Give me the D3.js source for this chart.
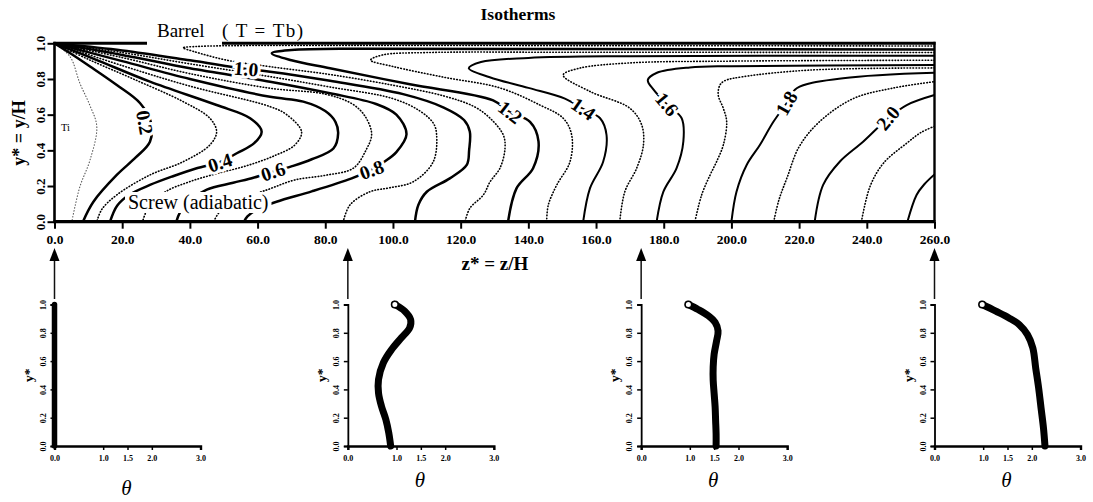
<!DOCTYPE html>
<html>
<head>
<meta charset="utf-8">
<script src="https://cdn.jsdelivr.net/npm/d3@7"></script>
<style>
  body { margin: 0; background: #fff; }
  svg { display: block; }
  text { font-family: "Liberation Serif", "DejaVu Serif", serif; fill: #000; }
</style>
</head>
<body>
<svg id="chart" width="1093" height="502"></svg>
<script>
// ---------- isotherm data: each line is a list of [z*, y*] points ----------
const iso01 = [[0,1],[4.6,0.925],[7.5,0.776],[10.5,0.65],[12.5,0.533],[10.5,0.346],[7.5,0.196],[5.1,0]];
const iso02 = [[0,1],[5,0.94],[10.5,0.87],[18.4,0.766],[25.3,0.664],[28.5,0.556],[28.2,0.448],[24,0.36],[18.4,0.262],[11.5,0.112],[8.4,0]];
const iso03 = [[0,1],[10,0.91],[23.3,0.8],[38,0.673],[45.9,0.58],[47.9,0.504],[45.9,0.43],[38,0.336],[28.2,0.262],[18.4,0.15],[14,0.07],[12.5,0]];
const iso04 = [[0,1],[12,0.91],[28.2,0.785],[47.9,0.654],[57.8,0.58],[61.2,0.505],[59,0.44],[54,0.385],[49,0.335],[42,0.3],[35,0.255],[28.2,0.206],[22,0.15],[18.5,0.09],[16.4,0]];
const iso05 = [[0,1],[20,0.875],[40,0.76],[63.7,0.645],[68.6,0.6],[73,0.504],[71,0.43],[65,0.37],[57,0.315],[48,0.27],[40,0.225],[33,0.17],[28,0.09],[26,0]];
const iso06 = [[0,1],[20,0.9],[40,0.8],[63.7,0.7],[73.5,0.673],[80,0.62],[83,0.56],[83.8,0.495],[82.4,0.41],[76,0.35],[70,0.31],[64.6,0.28],[59,0.248],[52.8,0.218],[45,0.18],[40,0.12],[37,0.05],[36,0]];
const iso07 = [[0,1],[20,0.92],[40,0.83],[63.7,0.748],[80,0.715],[88,0.66],[91.8,0.59],[93.7,0.49],[92,0.4],[88.3,0.3],[80,0.26],[71,0.234],[63,0.18],[54,0.12],[49,0.06],[47,0]];
const iso08 = [[0,1],[20,0.935],[40,0.86],[63.7,0.785],[81.4,0.72],[95,0.66],[101,0.6],[104,0.49],[101,0.39],[97,0.33],[93.7,0.29],[87.8,0.243],[76,0.17],[65.6,0.112],[60,0.07],[57,0.03],[56,0]];
const iso09 = [[0,1],[20,0.948],[40,0.885],[63.7,0.813],[81.4,0.755],[100,0.69],[108,0.62],[112,0.55],[112.9,0.486],[111.9,0.336],[106,0.224],[99,0.19],[93.2,0.168],[87.3,0.094],[85.3,0]];
const iso10 = [[0,1],[20,0.96],[40,0.905],[56.6,0.856],[63.7,0.841],[81.4,0.79],[103,0.715],[115,0.64],[121,0.57],[122.7,0.505],[122.5,0.4],[121.8,0.318],[116.8,0.243],[110,0.168],[107.5,0.094],[106.5,0]];
const iso11 = [[260,0.985],[150,0.987],[80,0.988],[50,0.986],[42,0.982],[38,0.975],[41,0.955],[51,0.905],[63.7,0.869],[81.4,0.825],[100,0.765],[115,0.705],[124,0.645],[128.7,0.58],[132.6,0.486],[133.1,0.41],[131.6,0.3],[128.7,0.224],[126.7,0.15],[122.7,0.075],[121.3,0]];
const iso12 = [[260,0.965],[150,0.968],[90,0.97],[70,0.962],[64.2,0.944],[70,0.905],[81.4,0.86],[105,0.77],[129.6,0.68],[134.6,0.613],[140.5,0.56],[143,0.45],[141.4,0.3],[136.5,0.187],[134,0]];
const iso13 = [[260,0.948],[150,0.95],[110,0.948],[97,0.935],[93.4,0.906],[100,0.87],[115,0.81],[131.6,0.75],[143.4,0.654],[150.3,0.58],[152.8,0.486],[152.3,0.336],[148.4,0.206],[145.9,0.094],[145.4,0]];
const iso14 = [[260,0.93],[170,0.928],[140,0.918],[126,0.895],[122.4,0.86],[128.6,0.81],[140,0.75],[150.8,0.69],[156.2,0.632],[161.2,0.58],[163.1,0.486],[162.1,0.336],[158.2,0.187],[156.2,0]];
const iso15 = [[260,0.905],[200,0.9],[170,0.89],[155,0.86],[150.3,0.822],[158.2,0.73],[170,0.636],[173.5,0.542],[174,0.43],[172,0.3],[168.5,0.168],[167,0]];
const iso16 = [[260,0.878],[200,0.872],[187.7,0.865],[178,0.835],[175.3,0.794],[177,0.74],[180.9,0.658],[185.3,0.58],[185.8,0.45],[183.8,0.3],[179.9,0.168],[177.9,0]];
const iso17 = [[260,0.862],[223.2,0.85],[203.5,0.813],[198,0.79],[196.6,0.766],[196.1,0.71],[197.6,0.636],[198.6,0.56],[197.6,0.43],[195.6,0.336],[193.7,0.262],[191.2,0.15],[189.2,0]];
const iso18 = [[200,0],[201.5,0.168],[204.5,0.318],[208.4,0.43],[212.4,0.56],[216.3,0.664],[219.3,0.748],[233,0.804],[260,0.835]];
const iso19 = [[212.5,0],[214,0.12],[216.5,0.25],[220,0.42],[226,0.56],[236,0.69],[248,0.75],[260,0.785]];
const iso20 = [[224.6,0],[227.1,0.206],[232,0.336],[238.9,0.448],[246.3,0.58],[251.8,0.654],[260,0.71]];
const iso21 = [[238.4,0],[241,0.2],[245,0.33],[251.8,0.44],[256,0.5],[260,0.535]];
const iso22 = [[252,0],[254.7,0.15],[257,0.21],[260,0.265]];

const isoLevels = [0.1,0.2,0.3,0.4,0.5,0.6,0.7,0.8,0.9,1.0,1.1,1.2,1.3,1.4,1.5,1.6,1.7,1.8,1.9,2.0,2.1,2.2];
const isoLines  = [iso01,iso02,iso03,iso04,iso05,iso06,iso07,iso08,iso09,iso10,iso11,iso12,iso13,iso14,iso15,iso16,iso17,iso18,iso19,iso20,iso21,iso22];

// contour labels: text and the [z*, y*] point they sit on
const labelText = ["0.2","0.4","0.6","0.8","1.0","1.2","1.4","1.6","1.8","2.0"];
const labelZ    = [26.6, 48.9, 64.6, 93.7, 56.6, 134.6, 156.2, 180.9, 216.3, 246.3];
const labelY    = [0.556,0.33, 0.28, 0.29, 0.856,0.613, 0.632, 0.658, 0.664, 0.58];

// axis ticks
const zTicks  = [0,20,40,60,80,100,120,140,160,180,200,220,240,260];
const yTicks  = [0,0.2,0.4,0.6,0.8,1.0];
const thTicks = [0,1,1.5,2,3];
const thTickLabels = ["0.0","1.0","1.5","2.0","3.0"];

// temperature profiles theta(y*) at four axial stations
const sliceZ = [0, 86.67, 173.33, 260];
const profY  = [1.0,0.953,0.894,0.835,0.765,0.682,0.588,0.47,0.376,0.282,0.188,0.094,0];
const prof1Y = [1.0,0.8,0.6,0.4,0.2,0];
const prof1T = [0,0,0,0,0,0];
const prof2T = [0.966,1.17,1.29,1.27,1.10,0.90,0.73,0.63,0.63,0.69,0.78,0.84,0.88];
const prof3Y = [1.0,0.965,0.92,0.873,0.814,0.743,0.65,0.56,0.465,0.37,0.276,0.18,0.087,0];
const prof3T = [0.97,1.17,1.38,1.52,1.58,1.55,1.50,1.48,1.48,1.50,1.52,1.53,1.54,1.54];
const prof4Y = [1.0,0.953,0.905,0.858,0.787,0.693,0.55,0.409,0.267,0.125,0];
const prof4T = [0.98,1.26,1.53,1.74,1.91,2.02,2.08,2.14,2.19,2.24,2.27];

const profiles = [
  d3.zip(prof1T, prof1Y),
  d3.zip(prof2T, profY),
  d3.zip(prof3T, prof3Y),
  d3.zip(prof4T, prof4Y)
];

// ---------- layout ----------
const svg = d3.select("#chart");
const P = { left: 54.5, right: 934.5, top: 43.3, bottom: 221.7 };
const x = d3.scaleLinear().domain([0, 260]).range([P.left, P.right]);
const y = d3.scaleLinear().domain([0, 1]).range([P.bottom, P.top]);

svg.append("defs").append("clipPath").attr("id", "plotClip")
  .append("rect").attr("x", P.left).attr("y", P.top)
  .attr("width", P.right - P.left).attr("height", P.bottom - P.top);

// title
svg.append("text").attr("x", 518).attr("y", 20).attr("text-anchor", "middle")
  .attr("font-size", 17.5).attr("font-weight", "bold").text("Isotherms");

// isotherm lines
const isoLine = d3.line().x(d => x(d[0])).y(d => y(d[1]))
  .curve(d3.curveCatmullRom.alpha(0.5));

const gIso = svg.append("g").attr("clip-path", "url(#plotClip)");
isoLines.forEach((pts, i) => {
  const lev = isoLevels[i];
  const solid = Math.round(lev * 10) % 2 === 0;
  const p = gIso.append("path").attr("d", isoLine(pts)).attr("fill", "none");
  if (solid) {
    p.attr("stroke", "#000").attr("stroke-width", lev <= 1.2 ? 2.5 : 2.0);
  } else {
    p.attr("stroke", lev < 0.15 ? "#555" : "#000")
     .attr("stroke-width", lev < 0.15 ? 1.1 : 1.6)
     .attr("stroke-dasharray", "0.6,2.4")
     .attr("stroke-linecap", "round");
  }
});

// contour labels with a white halo that breaks the line underneath
const labelAngle = [80, -18, -18, -20, 5, 38, 35, 50, -60, -50];
labelText.forEach((t, i) => {
  svg.append("text")
    .attr("transform", `translate(${x(labelZ[i])},${y(labelY[i])}) rotate(${labelAngle[i]})`)
    .attr("text-anchor", "middle").attr("dominant-baseline", "central")
    .attr("font-size", 19.5).attr("font-weight", "bold")
    .attr("stroke", "#fff").attr("stroke-width", 6).attr("paint-order", "stroke")
    .text(t);
});

// wall annotations
const screw = svg.append("text").attr("x", 128).attr("y", 209)
  .attr("font-size", 20).text("Screw (adiabatic)");
const sb = screw.node().getBBox();
svg.insert("rect", "text:last-of-type")
  .attr("x", sb.x - 3).attr("y", sb.y + 1).attr("width", sb.width + 6).attr("height", sb.height - 2)
  .attr("fill", "#fff");
screw.raise();

svg.append("text").attr("x", 61).attr("y", 131).attr("font-size", 10.5)
  .style("fill", "#000").text("Ti");

// plot frame; the top edge is interrupted by the barrel label
const frame = svg.append("g").attr("stroke", "#000").attr("fill", "none");
frame.append("line").attr("x1", P.left).attr("x2", P.left).attr("y1", P.top - 1.5).attr("y2", P.bottom).attr("stroke-width", 2.6);
frame.append("line").attr("x1", P.right).attr("x2", P.right).attr("y1", P.top - 1.5).attr("y2", P.bottom).attr("stroke-width", 2.4);
frame.append("line").attr("x1", P.left - 1).attr("x2", P.right + 1).attr("y1", P.bottom).attr("y2", P.bottom).attr("stroke-width", 3.2);
frame.append("line").attr("x1", P.left - 1).attr("x2", 147).attr("y1", P.top).attr("y2", P.top).attr("stroke-width", 3);
frame.append("line").attr("x1", 222).attr("x2", P.right + 1).attr("y1", P.top).attr("y2", P.top).attr("stroke-width", 3);

svg.append("text").attr("x", 157).attr("y", 37).attr("font-size", 19).text("Barrel");
svg.append("text").attr("x", 222).attr("y", 37).attr("font-size", 19)
  .attr("textLength", 81).attr("lengthAdjust", "spacing").text("( T = Tb)");

// x axis
const xAxis = svg.append("g").attr("transform", `translate(0,${P.bottom})`)
  .call(d3.axisBottom(x).tickValues(zTicks).tickSize(7).tickPadding(6).tickFormat(d3.format(".1f")));
xAxis.select(".domain").remove();
xAxis.selectAll(".tick line").attr("stroke-width", 2);
xAxis.selectAll("text").attr("font-size", 13.5).attr("font-weight", "bold")
  .attr("font-family", "'Liberation Serif', serif");

// y axis with rotated labels
const yAxis = svg.append("g").attr("transform", `translate(${P.left},0)`)
  .call(d3.axisLeft(y).tickValues(yTicks).tickSize(7).tickFormat(d3.format(".1f")));
yAxis.select(".domain").remove();
yAxis.selectAll(".tick line").attr("stroke-width", 2);
yAxis.selectAll("text")
  .attr("x", null).attr("dy", null)
  .attr("transform", "translate(-10,0) rotate(-90)")
  .attr("text-anchor", "middle")
  .attr("font-size", 13).attr("font-weight", "bold")
  .attr("font-family", "'Liberation Serif', serif");

svg.append("text").attr("transform", "translate(25,133) rotate(-90)")
  .attr("text-anchor", "middle").attr("font-size", 18).attr("font-weight", "bold")
  .text("y* = y/H");
svg.append("text").attr("x", 495).attr("y", 270).attr("text-anchor", "middle")
  .attr("font-size", 19).attr("font-weight", "bold").text("z* = z/H");

// ---------- profile panels ----------
const PW = 146, PB = 446, PT = 304.5;
const profLine = d3.line().curve(d3.curveCatmullRom.alpha(0.5));

sliceZ.forEach((zs, k) => {
  const x0 = x(zs);
  const xs = d3.scaleLinear().domain([0, 3]).range([x0, x0 + PW]);
  const ys = d3.scaleLinear().domain([0, 1]).range([PB, PT]);
  const g = svg.append("g");

  // arrow from the station on the z* axis
  g.append("line").attr("x1", x0).attr("x2", x0).attr("y1", 258).attr("y2", 299)
    .attr("stroke", "#111").attr("stroke-width", 1.5);
  g.append("path").attr("d", `M${x0},248 L${x0 - 5},261 L${x0 + 5},261 Z`).attr("fill", "#000");

  // axes
  const ax = g.append("g").attr("transform", `translate(0,${PB})`)
    .call(d3.axisBottom(xs).tickValues(thTicks).tickSize(4).tickPadding(5)
      .tickFormat((d, i) => thTickLabels[i]));
  ax.select(".domain").attr("stroke-width", 2.4);
  ax.selectAll(".tick line").attr("stroke-width", 1.5);
  ax.selectAll("text").attr("font-size", 8).attr("font-weight", "bold")
    .attr("font-family", "'Liberation Serif', serif");

  const ay = g.append("g").attr("transform", `translate(${x0},0)`)
    .call(d3.axisLeft(ys).tickValues(yTicks).tickSize(4).tickFormat(d3.format(".1f")));
  ay.select(".domain").attr("stroke-width", 1.8);
  ay.selectAll(".tick line").attr("stroke-width", 1.5);
  ay.selectAll("text")
    .attr("x", null).attr("dy", null)
    .attr("transform", "translate(-9,0) rotate(-90)")
    .attr("text-anchor", "middle")
    .attr("font-size", 8).attr("font-weight", "bold")
    .attr("font-family", "'Liberation Serif', serif");

  g.append("text").attr("transform", `translate(${x0 - 22},${(PB + PT) / 2}) rotate(-90)`)
    .attr("text-anchor", "middle").attr("font-size", 13.5).attr("font-weight", "bold")
    .text("y*");

  g.append("text").attr("x", x0 + 72).attr("y", k === 0 ? 495 : 487)
    .attr("text-anchor", "middle").attr("font-size", 21).attr("font-style", "italic")
    .text("θ");

  // profile
  const pts = profiles[k].map(d => [xs(d[0]), ys(d[1])]);
  g.append("path").attr("d", profLine(pts)).attr("fill", "none")
    .attr("stroke", "#000").attr("stroke-width", k === 0 ? 5.5 : 7)
    .attr("stroke-linecap", "round");
  if (k > 0) {
    g.append("circle").attr("cx", pts[0][0]).attr("cy", pts[0][1]).attr("r", 3.3)
      .attr("fill", "#fff").attr("stroke", "#000").attr("stroke-width", 1.6);
  }
});
</script>
</body>
</html>
